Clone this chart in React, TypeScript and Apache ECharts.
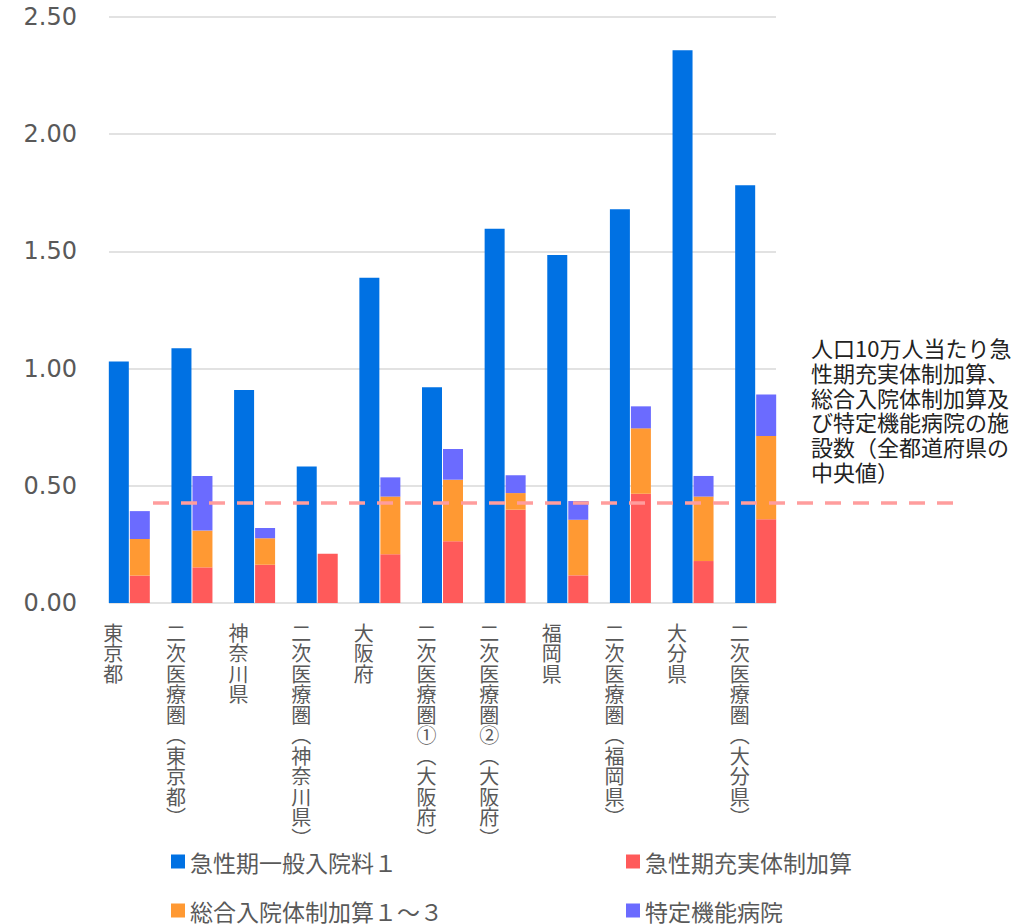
import React, { useEffect, useRef } from "react";
import * as echarts from "echarts";

const categories = [
  "東京都",
  "二次医療圏（東京都）",
  "神奈川県",
  "二次医療圏（神奈川県）",
  "大阪府",
  "二次医療圏①（大阪府）",
  "二次医療圏②（大阪府）",
  "福岡県",
  "二次医療圏（福岡県）",
  "大分県",
  "二次医療圏（大分県）",
];

const seriesNames = [
  "急性期一般入院料１",
  "急性期充実体制加算",
  "総合入院体制加算１～３",
  "特定機能病院",
];

const acuteGeneral1 = [1.03, 1.087, 0.909, 0.582, 1.388, 0.92, 1.597, 1.485, 1.68, 2.358, 1.782];
const acuteEnhanced = [0.117, 0.152, 0.163, 0.21, 0.208, 0.263, 0.398, 0.118, 0.466, 0.179, 0.357];
const comprehensive = [0.156, 0.157, 0.113, 0, 0.246, 0.263, 0.071, 0.237, 0.279, 0.275, 0.355];
const specialFunction = [0.119, 0.233, 0.044, 0, 0.082, 0.131, 0.076, 0.08, 0.094, 0.088, 0.178];

const medianValue = 0.427;
const medianNote =
  "人口10万人当たり急\n性期充実体制加算、\n総合入院体制加算及\nび特定機能病院の施\n設数（全都道府県の\n中央値）";

const yTicks = { min: 0, max: 2.5, interval: 0.5 };

const COLORS = ["#0071e3", "#ff5a5a", "#ff9933", "#6b6bff"];
const CJK = "'Noto Sans CJK JP', 'Noto Sans', sans-serif";

function verticalLabel(s: string): string {
  return Array.from(s)
    .map((c) => (c === "（" ? "︵" : c === "）" ? "︶" : c))
    .join("\n");
}

export default function App() {
  const ref = useRef<HTMLDivElement>(null);

  useEffect(() => {
    if (!ref.current) return;
    const chart = echarts.init(ref.current, undefined, { renderer: "svg" });

    const gridTop = 17;
    const gridHeight = 586;

    const legendItem = (name: string, left: number, top: number) => ({
      orient: "horizontal",
      left,
      top,
      itemWidth: 14,
      itemHeight: 14,
      icon: "rect",
      data: [name],
      textStyle: { color: "#595959", fontSize: 23, lineHeight: 20, fontFamily: CJK },
    });

    const option: any = {
      animation: false,
      backgroundColor: "#ffffff",
      grid: [
        { left: 98, width: 689, top: gridTop, height: gridHeight },
        { left: 109, width: 667, top: gridTop, height: gridHeight },
        { left: 82, width: 689, top: gridTop, height: gridHeight },
        { left: 153, width: 800, top: gridTop, height: gridHeight },
      ],
      xAxis: [
        {
          gridIndex: 0,
          type: "category",
          data: categories,
          show: false,
        },
        { gridIndex: 1, type: "value", show: false, min: 0, max: 1 },
        {
          gridIndex: 2,
          type: "category",
          data: categories,
          axisLine: { show: false },
          axisTick: { show: false },
          axisLabel: {
            interval: 0,
            margin: 19,
            color: "#595959",
            fontSize: 20,
            lineHeight: 20.5,
            fontFamily: CJK,
            verticalAlign: "top",
            formatter: (v: string) => verticalLabel(v),
          },
        },
        { gridIndex: 3, type: "value", show: false, min: 0, max: 1 },
      ],
      yAxis: [
        { gridIndex: 0, type: "value", show: false, ...yTicks },
        {
          gridIndex: 1,
          type: "value",
          ...yTicks,
          axisLine: { show: false },
          axisTick: { show: false },
          splitLine: { lineStyle: { color: "#d9d9d9", width: 1.5 } },
          axisLabel: {
            margin: 32,
            color: "#595959",
            fontSize: 24,
            fontFamily: "'DejaVu Sans', sans-serif",
            formatter: (v: number) => v.toFixed(2),
          },
        },
        { gridIndex: 2, type: "value", show: false, ...yTicks },
        { gridIndex: 3, type: "value", show: false, ...yTicks },
      ],
      legend: [
        legendItem(seriesNames[0], 166, 845),
        legendItem(seriesNames[1], 621, 845),
        legendItem(seriesNames[2], 166, 894),
        legendItem(seriesNames[3], 621, 894),
      ],
      series: [
        {
          name: seriesNames[0],
          type: "bar",
          xAxisIndex: 0,
          yAxisIndex: 0,
          data: acuteGeneral1,
          barWidth: 20,
          barGap: "5%",
          itemStyle: { color: COLORS[0] },
        },
        {
          name: seriesNames[1],
          type: "bar",
          stack: "facility",
          xAxisIndex: 0,
          yAxisIndex: 0,
          data: acuteEnhanced,
          barWidth: 20,
          itemStyle: { color: COLORS[1] },
        },
        {
          name: seriesNames[2],
          type: "bar",
          stack: "facility",
          xAxisIndex: 0,
          yAxisIndex: 0,
          data: comprehensive,
          barWidth: 20,
          itemStyle: { color: COLORS[2] },
        },
        {
          name: seriesNames[3],
          type: "bar",
          stack: "facility",
          xAxisIndex: 0,
          yAxisIndex: 0,
          data: specialFunction,
          barWidth: 20,
          itemStyle: { color: COLORS[3] },
        },
        {
          name: "median",
          type: "line",
          xAxisIndex: 3,
          yAxisIndex: 3,
          data: [
            [0, medianValue],
            [1, medianValue],
          ],
          showSymbol: false,
          symbol: "none",
          silent: true,
          z: 5,
          lineStyle: { color: "#ff9d9d", width: 3.5, type: [16, 12] },
        },
      ],
      graphic: [
        {
          type: "text",
          left: 811,
          top: 335,
          style: {
            text: medianNote,
            fill: "#222222",
            fontSize: 22,
            lineHeight: 24.7,
            fontFamily: CJK,
          },
        },
      ],
    };

    chart.setOption(option);
    return () => chart.dispose();
  }, []);

  return (
    <div
      ref={ref}
      style={{ position: "fixed", left: 0, top: 0, width: 1019, height: 924 }}
    />
  );
}
